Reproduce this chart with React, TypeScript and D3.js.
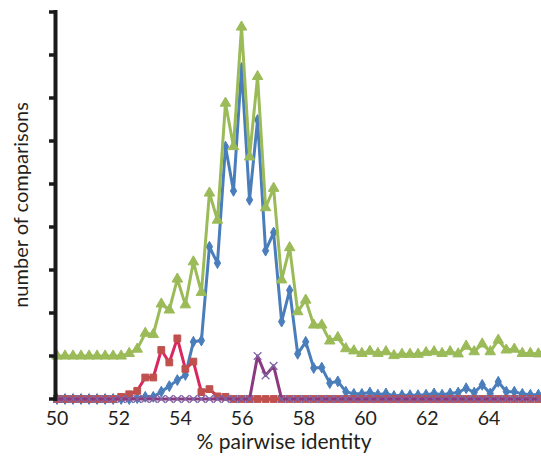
import * as d3 from 'd3'
import {useRef, useEffect} from 'react'

// category step along x (% identity per point)
const step = 0.26

const xTicks = [50, 52, 54, 56, 58, 60, 62, 64]
const yTicks = [0, 1, 2, 3, 4, 5, 6, 7, 8, 9]

const greenValues = [
  1.0, 1.0, 1.0, 1.0, 1.0, 1.0, 1.0, 1.0, 1.0, 1.06,
  1.16, 1.53, 1.50, 2.21, 2.07, 2.79, 2.19, 3.19, 2.48, 4.79,
  4.16, 6.88, 5.87, 8.65, 5.63, 7.50, 4.45, 4.90, 2.77, 3.52,
  2.03, 2.30, 1.72, 1.72, 1.35, 1.43, 1.17, 1.12, 1.06, 1.11,
  1.06, 1.10, 1.01, 1.04, 1.04, 1.04, 1.08, 1.10, 1.06, 1.10,
  1.05, 1.23, 1.10, 1.28, 1.10, 1.37, 1.14, 1.16, 1.06, 1.06,
  1.05,
]

const blueValues = [
  0, 0, 0, 0, 0, 0, 0, 0, 0, 0,
  0.02, 0.05, 0.05, 0.17, 0.30, 0.44, 0.56, 1.33, 1.36, 3.54,
  3.16, 5.87, 4.84, 7.70, 4.63, 6.49, 3.45, 3.87, 1.80, 2.53,
  1.05, 1.33, 0.72, 0.73, 0.37, 0.41, 0.17, 0.12, 0.12, 0.15,
  0.10, 0.13, 0.07, 0.09, 0.09, 0.09, 0.10, 0.13, 0.10, 0.13,
  0.15, 0.25, 0.15, 0.33, 0.13, 0.40, 0.17, 0.17, 0.12, 0.10,
  0.10,
]

const redValues = [
  0, 0, 0, 0, 0, 0, 0, 0, 0.05, 0.11,
  0.19, 0.50, 0.50, 1.14, 0.85, 1.41, 0.70, 0.87, 0.16, 0.23,
  0.06, 0.05, 0, 0, 0, 0, 0, 0, 0, 0,
  0, 0, 0, 0, 0, 0, 0, 0, 0, 0,
  0, 0, 0, 0, 0, 0, 0, 0, 0, 0,
  0, 0, 0, 0, 0, 0, 0, 0, 0, 0,
  0,
]

const purpleValues = [
  0, 0, 0, 0, 0, 0, 0, 0, 0, 0,
  0, 0, 0, 0, 0, 0, 0, 0, 0, 0,
  0, 0, 0, 0, 0, 1.0, 0.55, 0.77, 0, 0,
  0, 0, 0, 0, 0, 0, 0, 0, 0, 0,
  0, 0, 0, 0, 0, 0, 0, 0, 0, 0,
  0, 0, 0, 0, 0, 0, 0, 0, 0, 0,
  0,
]

const width = 541
const height = 457
const font = 'Lato, "Open Sans", sans-serif'

const App = () => {
  const svgRef = useRef<SVGSVGElement>(null)

  useEffect(() => {
    const svg = d3.select(svgRef.current)
    svg.selectAll('*').remove()

    const xScale = d3.scaleLinear().domain([50, 64]).range([57, 489])
    const yScale = d3.scaleLinear().domain([0, 9]).range([399, 12])

    const series = [
      {values: blueValues, line: '#4a7ebb', fill: '#4a7ebb', symbol: d3.symbolDiamond, size: 34, stroke: false},
      {values: greenValues, line: '#9bbb59', fill: '#9bbb59', symbol: d3.symbolTriangle, size: 48, stroke: false},
      {values: redValues, line: '#d8285f', fill: '#c0504d', symbol: d3.symbolSquare, size: 46, stroke: false},
      {values: purpleValues, line: '#8b3a80', fill: '#8064a2', symbol: d3.symbolX, size: 40, stroke: true},
    ]

    const g = svg.append('g').attr('clip-path', 'url(#plotclip)')
    svg.append('clipPath').attr('id', 'plotclip')
      .append('rect').attr('x', 0).attr('y', 0).attr('width', width).attr('height', 406)

    const line = d3.line<number>()
      .x((d, i) => xScale(50 + i * step))
      .y((d) => yScale(d))

    series.forEach((s) => {
      g.append('path')
        .attr('d', line(s.values))
        .attr('fill', 'none')
        .attr('stroke', s.line)
        .attr('stroke-width', 3)
        .attr('stroke-linejoin', 'round')

      const sym = d3.symbol().type(s.symbol).size(s.size)
      g.selectAll(null)
        .data(s.values)
        .join('path')
        .attr('transform', (d, i) => `translate(${xScale(50 + i * step)},${yScale(d)})`)
        .attr('d', sym())
        .attr('fill', s.stroke ? 'none' : s.fill)
        .attr('stroke', s.fill)
        .attr('stroke-width', s.stroke ? 1.3 : 1)
    })

    // y axis: thick line, ticks, no labels
    const yAxis = svg.append('g')
    yAxis.append('line')
      .attr('x1', 55.5).attr('x2', 55.5)
      .attr('y1', yScale(9) - 2).attr('y2', yScale(0) + 2)
      .attr('stroke', '#1a1a1a').attr('stroke-width', 4)
    yAxis.selectAll(null)
      .data(yTicks)
      .join('line')
      .attr('x1', 49).attr('x2', 56)
      .attr('y1', (d) => yScale(d)).attr('y2', (d) => yScale(d))
      .attr('stroke', '#1a1a1a').attr('stroke-width', 3.5)

    // x tick labels
    svg.append('g').selectAll(null)
      .data(xTicks)
      .join('text')
      .attr('x', (d) => xScale(d))
      .attr('y', 425)
      .attr('text-anchor', 'middle')
      .attr('font-family', font)
      .attr('font-size', 19.5)
      .attr('fill', '#231f20')
      .text((d) => d)

    svg.append('text')
      .attr('x', 284).attr('y', 449)
      .attr('text-anchor', 'middle')
      .attr('font-family', font)
      .attr('font-size', 21)
      .attr('fill', '#231f20')
      .text('% pairwise identity')

    svg.append('text')
      .attr('transform', 'translate(28,205) rotate(-90)')
      .attr('text-anchor', 'middle')
      .attr('font-family', font)
      .attr('font-size', 20)
      .attr('fill', '#231f20')
      .text('number of comparisons')
  }, [])

  return (
    <>
      <style>{'body{margin:0}'}</style>
      <svg ref={svgRef} width={width} height={height} style={{display: 'block', background: '#fff'}}/>
    </>
  )
}

export default App
